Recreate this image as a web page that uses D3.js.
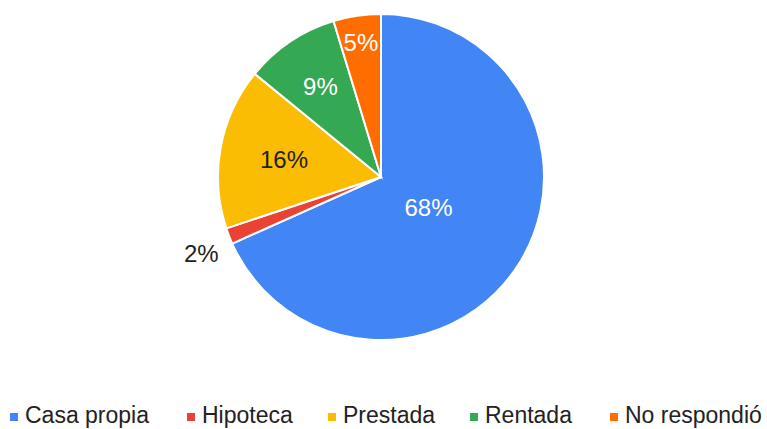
<!DOCTYPE html>
<html>
<head>
<meta charset="utf-8">
<script src="https://cdn.jsdelivr.net/npm/d3@7"></script>
<style>
  body { margin: 0; background: #fff; }
  text { font-family: "Liberation Sans", Arial, sans-serif; }
</style>
</head>
<body>
<svg id="chart" width="767" height="429"></svg>
<script>
// data (percent of answers)
var categories = ["Casa propia", "Hipoteca", "Prestada", "Rentada", "No respondió"];
var values = [68.3, 1.6, 16.0, 9.4, 4.7];
var colors = ["#4285f4", "#ea4335", "#fbbc04", "#34a853", "#ff6d01"];
var labelColors = ["#fff", "#222", "#222", "#fff", "#fff"];

var svg = d3.select("#chart");
var cx = 381, cy = 177, r = 163;

var data = categories.map(function(c, i){ return {name: c, value: values[i], color: colors[i], lc: labelColors[i]}; });
var total = d3.sum(values);

var pie = d3.pie().sort(null).value(function(d){ return d.value; });
var arc = d3.arc().innerRadius(0).outerRadius(r);
var arcs = pie(data);

var g = svg.append("g").attr("transform", "translate(" + cx + "," + cy + ")");

g.selectAll("path").data(arcs).enter().append("path")
  .attr("d", arc)
  .attr("fill", function(d){ return d.data.color; })
  .attr("stroke", "#fff")
  .attr("stroke-width", 2);

// label distance from centre shrinks as the slice gets bigger
var labelR = d3.scaleLinear().domain([0.05, 0.09, 0.16, 0.68]).range([0.836, 0.671, 0.605, 0.347]).clamp(true);

g.selectAll("text.lbl").data(arcs).enter().append("text")
  .attr("class", "lbl")
  .each(function(d){
    var frac = d.data.value / total;
    var a = (d.startAngle + d.endAngle) / 2;
    var small = frac < 0.03;
    var rr = small ? r + 32 : r * labelR(frac);
    var x = Math.sin(a) * rr, y = -Math.cos(a) * rr;
    if (small) { x += 2; y += 6; }
    d3.select(this)
      .attr("x", x).attr("y", y)
      .attr("dy", "0.35em")
      .attr("text-anchor", "middle")
      .attr("font-size", 24)
      .attr("fill", small ? "#222" : d.data.lc)
      .text(Math.round(frac * 100) + "%");
  });

// legend along the bottom
var legX = [10, 187, 328, 470, 610];
var leg = svg.append("g").selectAll("g").data(data).enter().append("g")
  .attr("transform", function(d, i){ return "translate(" + legX[i] + ",423)"; });
leg.append("rect").attr("x", 0).attr("y", -10).attr("width", 8).attr("height", 8)
  .attr("fill", function(d){ return d.color; });
leg.append("text").attr("x", 15).attr("y", 0)
  .attr("font-size", 23).attr("fill", "#222")
  .text(function(d){ return d.name; });
</script>
</body>
</html>
